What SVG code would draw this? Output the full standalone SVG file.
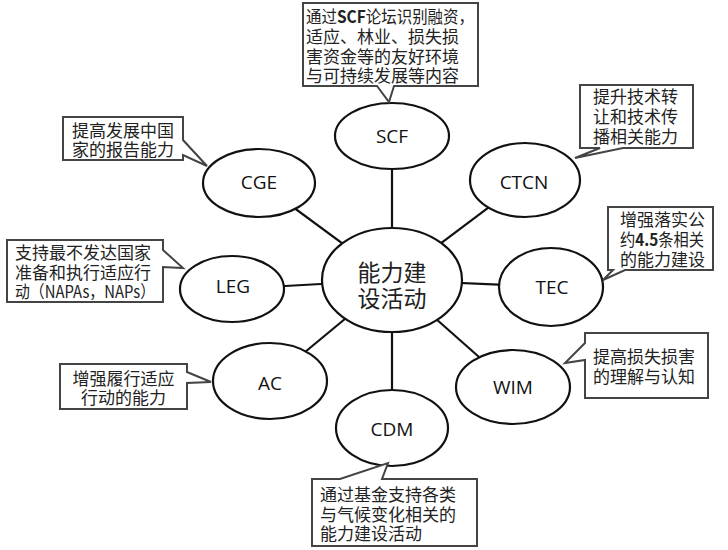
<svg xmlns="http://www.w3.org/2000/svg" width="728" height="550" viewBox="0 0 728 550">
<style>
.bg{fill:#fff}
.conn line{stroke:#111;stroke-width:2.2}
.node ellipse{fill:#fff;stroke:#111;stroke-width:2.2}
.lbl{font-family:"Open Sans","Noto Sans",sans-serif;font-size:19px;fill:#111;text-anchor:middle}
.ctr{font-family:"Noto Sans CJK SC","Noto Sans",sans-serif;font-size:23px;fill:#222;text-anchor:middle}
.call path{fill:#fff;stroke:#444;stroke-width:2}
.ct{font-family:"Noto Sans CJK SC","Noto Sans",sans-serif;font-size:17px;fill:#222}
.b{font-weight:bold}
</style>
<rect class="bg" width="728" height="550"/>
<g id="connectors" class="conn">
<line x1="392" y1="280" x2="392" y2="136"/>
<line x1="392" y1="280" x2="259" y2="182"/>
<line x1="392" y1="280" x2="525" y2="180"/>
<line x1="392" y1="280" x2="232" y2="289"/>
<line x1="392" y1="280" x2="551" y2="287"/>
<line x1="392" y1="280" x2="270" y2="381"/>
<line x1="392" y1="280" x2="513" y2="387"/>
<line x1="392" y1="280" x2="392" y2="428"/>
</g>
<g id="center" class="node"><ellipse cx="392" cy="280" rx="70" ry="52"/><text class="ctr"><tspan x="392" y="281">能力建</tspan><tspan x="392" y="307">设活动</tspan></text></g>
<g id="scf" class="node"><ellipse cx="392" cy="136" rx="57" ry="33"/><text class="lbl" x="392" y="143">SCF</text></g>
<g id="cge" class="node"><ellipse cx="259" cy="183" rx="56" ry="34"/><text class="lbl" x="259" y="189">CGE</text></g>
<g id="ctcn" class="node"><ellipse cx="525" cy="180" rx="55" ry="37"/><text class="lbl" x="524" y="189">CTCN</text></g>
<g id="leg" class="node"><ellipse cx="232" cy="289" rx="52" ry="33"/><text class="lbl" x="233" y="293">LEG</text></g>
<g id="tec" class="node"><ellipse cx="551" cy="287" rx="52" ry="39"/><text class="lbl" x="552" y="294">TEC</text></g>
<g id="ac" class="node"><ellipse cx="270" cy="381" rx="57" ry="38"/><text class="lbl" x="270" y="390">AC</text></g>
<g id="wim" class="node"><ellipse cx="513" cy="387" rx="57" ry="37"/><text class="lbl" x="513" y="394">WIM</text></g>
<g id="cdm" class="node"><ellipse cx="392" cy="428" rx="56" ry="38"/><text class="lbl" x="392" y="436">CDM</text></g>
<g id="call-scf" class="call"><path d="M303,3 H478 V86 H394 L389,102 L377,86 H303 Z"/>
<text class="ct"><tspan x="306" y="23" textLength="168" lengthAdjust="spacingAndGlyphs">通过<tspan class="b">SCF</tspan>论坛识别融资，</tspan><tspan x="306" y="43">适应、林业、损失损</tspan><tspan x="306" y="63">害资金等的友好环境</tspan><tspan x="306" y="82">与可持续发展等内容</tspan></text></g>
<g id="call-cge" class="call"><path d="M63,117 H183 V140 L207,166 L183,155 V160 H63 Z"/>
<text class="ct"><tspan x="72" y="137">提高发展中国</tspan><tspan x="72" y="156">家的报告能力</tspan></text></g>
<g id="call-ctcn" class="call"><path d="M580,85 H693 V148 H623 L575,158 L600,148 H580 Z"/>
<text class="ct"><tspan x="593" y="103">提升技术转</tspan><tspan x="593" y="123">让和技术传</tspan><tspan x="593" y="143">播相关能力</tspan></text></g>
<g id="call-leg" class="call"><path d="M7,240 H163 V250 L183,268 L163,267 V302 H7 Z"/>
<text class="ct"><tspan x="15" y="259">支持最不发达国家</tspan><tspan x="15" y="279">准备和执行适应行</tspan><tspan x="15" y="298" textLength="140" lengthAdjust="spacingAndGlyphs">动（NAPAs，NAPs）</tspan></text></g>
<g id="call-tec" class="call"><path d="M608,207 H713 V270 H625 L603,280 L613,270 H608 Z"/>
<text class="ct"><tspan x="620" y="226">增强落实公</tspan><tspan x="620" y="246" textLength="84" lengthAdjust="spacingAndGlyphs">约<tspan class="b">4.5</tspan>条相关</tspan><tspan x="620" y="266">的能力建设</tspan></text></g>
<g id="call-ac" class="call"><path d="M60,364 H187 V372 L211,382 L187,383 V409 H60 Z"/>
<text class="ct" text-anchor="middle"><tspan x="123.5" y="385">增强履行适应</tspan><tspan x="123.5" y="404">行动的能力</tspan></text></g>
<g id="call-wim" class="call"><path d="M585,333 H708 V398 H585 V360 L565,363 L585,343 Z"/>
<text class="ct"><tspan x="593" y="363">提高损失损害</tspan><tspan x="593" y="383">的理解与认知</tspan></text></g>
<g id="call-cdm" class="call"><path d="M312,479 H340 L388,463 L382,479 H477 V546 H312 Z"/>
<text class="ct"><tspan x="320" y="501">通过基金支持各类</tspan><tspan x="320" y="521">与气候变化相关的</tspan><tspan x="320" y="540">能力建设活动</tspan></text></g>
</svg>
